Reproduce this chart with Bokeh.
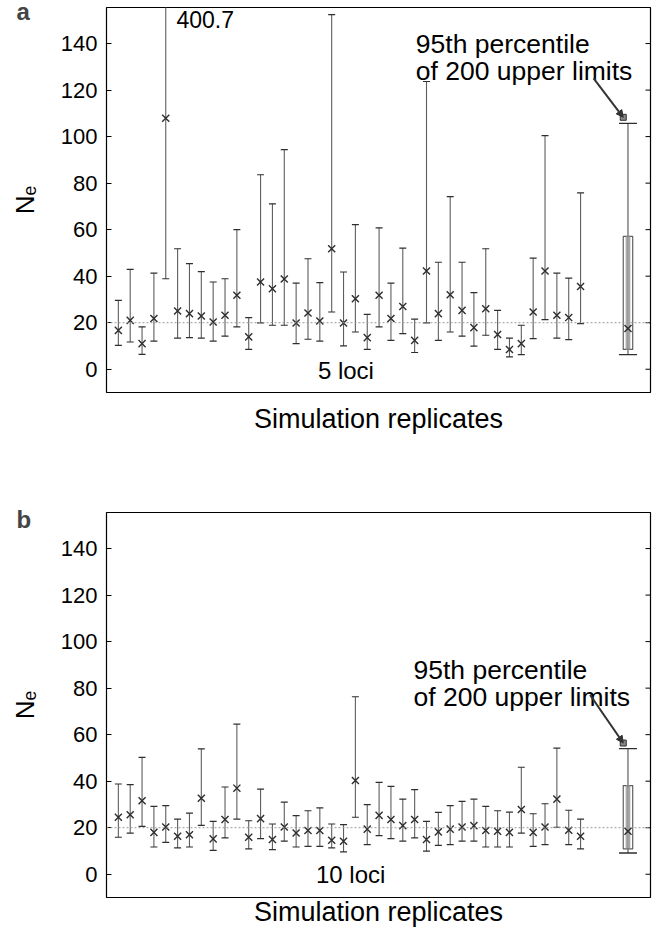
from bokeh.plotting import figure
from bokeh.layouts import column
from bokeh.models import (ColumnDataSource, FixedTicker, Range1d, Span,
                          Label, Arrow, NormalHead)
from bokeh.embed import file_html
from bokeh.resources import INLINE

# ---------------- data ----------------
replicates = list(range(1, 41))
summary_x = 44
y_ticks = [0, 20, 40, 60, 80, 100, 120, 140]
true_ne = 20

# panel a: 5 loci
a_est = [16.7, 21.0, 11.0, 21.8, 107.9, 25.0, 23.9, 22.9, 20.3, 23.2,
         31.8, 13.9, 37.5, 34.6, 38.8, 19.9, 24.2, 20.7, 51.8, 19.9,
         30.3, 13.6, 31.8, 21.8, 27.0, 12.4, 42.2, 23.9, 32.0, 25.3,
         17.9, 26.0, 14.9, 8.5, 11.0, 24.6, 42.2, 23.2, 22.2, 35.6]
a_lo = [10.3, 11.7, 6.4, 12.1, 38.9, 13.4, 13.6, 13.4, 12.1, 14.2,
        18.2, 8.5, 19.9, 18.9, 18.9, 11.0, 12.9, 12.1, 24.6, 10.0,
        16.0, 8.5, 18.2, 12.4, 15.3, 7.2, 19.9, 12.4, 16.0, 14.2,
        9.9, 14.6, 8.5, 5.3, 6.3, 13.2, 21.3, 13.4, 12.7, 19.6]
a_hi = [29.6, 42.9, 18.2, 41.3, 400.7, 51.8, 45.4, 42.0, 37.5, 38.9,
        60.0, 22.2, 83.6, 71.1, 94.4, 37.0, 47.5, 37.2, 152.4, 41.8,
        62.2, 23.6, 60.8, 37.0, 52.1, 21.5, 123.7, 46.0, 74.2, 46.0,
        32.9, 51.8, 25.3, 13.4, 18.9, 47.8, 100.4, 41.3, 39.2, 75.8]
# summary of 200 replicates (panel a)
a_sum = dict(est=17.5, box_lo=8.5, box_hi=57.1, lo=6.3, hi=105.7, p95=108.3)

# panel b: 10 loci
b_est = [24.5, 25.6, 31.6, 18.0, 20.3, 16.3, 17.0, 32.7, 15.2, 23.5,
         37.0, 15.9, 23.9, 14.9, 20.3, 17.7, 18.8, 18.8, 14.6, 14.2,
         40.3, 19.4, 25.3, 23.5, 20.9, 23.5, 14.9, 18.2, 19.4, 20.3,
         20.9, 18.8, 18.5, 18.0, 27.8, 18.0, 20.3, 32.3, 18.9, 16.3]
b_lo = [15.9, 17.7, 20.6, 11.7, 13.7, 11.3, 11.7, 21.0, 10.3, 15.6,
        23.7, 10.9, 15.3, 10.6, 14.2, 11.7, 12.0, 12.0, 11.3, 9.6,
        24.5, 12.7, 16.6, 15.3, 14.2, 15.6, 9.9, 12.4, 12.7, 14.2,
        14.2, 11.7, 11.7, 11.7, 17.7, 12.0, 12.7, 20.2, 12.7, 10.9]
b_hi = [38.8, 38.5, 50.2, 29.2, 29.5, 23.7, 26.3, 53.9, 22.7, 37.5,
        64.5, 23.0, 36.6, 21.6, 31.0, 25.2, 27.3, 28.5, 21.6, 21.3,
        76.3, 29.9, 39.5, 37.8, 32.3, 36.4, 22.7, 26.6, 29.5, 31.3,
        32.3, 29.2, 27.3, 26.7, 46.0, 26.0, 30.3, 54.2, 27.5, 23.7]
b_sum = dict(est=18.5, box_lo=10.9, box_hi=38.1, lo=9.1, hi=54.0, p95=56.4)

FONT = "Liberation Sans"
BAR = "#5e5e5e"
MARK = "#2e2e2e"
X_MIN, X_MAX = 0, 45.9
Y_MIN, Y_MAX = -10, 155.5
FRAME_W = 544


def make_panel(letter, letter_standoff, est, lo, hi, summ, loci_text, loci_pos, note_pos,
               arrow_start, extra_label, height, top, bottom, xstand):
    p = figure(width=655, height=height, output_backend="svg", toolbar_location=None,
               x_range=Range1d(X_MIN, X_MAX), y_range=Range1d(Y_MIN, Y_MAX),
               min_border_left=106, min_border_right=5, min_border_top=top,
               min_border_bottom=bottom)
    p.grid.visible = False
    p.outline_line_color = "black"
    p.outline_line_width = 1.2
    p.background_fill_color = "white"
    p.border_fill_color = "white"

    # panel letter as the plot title, pulled into the left margin
    p.title.text = letter
    p.title.text_font = FONT
    p.title.text_font_size = "24px"
    p.title.text_font_style = "bold"
    p.title.align = "left"
    p.title.offset = -90
    p.title.standoff = letter_standoff

    # y axis
    p.yaxis.ticker = FixedTicker(ticks=y_ticks)
    p.yaxis.major_tick_in = 5
    p.yaxis.major_tick_out = 0
    p.yaxis.minor_tick_line_color = None
    p.yaxis.axis_line_color = None
    p.yaxis.major_label_text_font = FONT
    p.yaxis.major_label_text_font_size = "22px"
    p.yaxis.major_label_text_color = "black"
    p.yaxis.major_label_standoff = 9
    p.yaxis.major_tick_line_color = "black"
    p.yaxis.axis_label = "Nₑ"
    p.yaxis.axis_label_text_font = FONT
    p.yaxis.axis_label_text_font_size = "26px"
    p.yaxis.axis_label_text_font_style = "normal"
    p.yaxis.axis_label_text_color = "black"
    p.yaxis.axis_label_standoff = 18

    # inward ticks on the right edge of the frame
    tick_len = (X_MAX - X_MIN) * 5 / FRAME_W
    p.segment(x0=[X_MAX - tick_len] * len(y_ticks), y0=y_ticks,
              x1=[X_MAX] * len(y_ticks), y1=y_ticks, line_color="black", line_width=1)

    # x axis: only the title
    p.xaxis.ticker = FixedTicker(ticks=[])
    p.xaxis.major_tick_line_color = None
    p.xaxis.minor_tick_line_color = None
    p.xaxis.axis_line_color = None
    p.xaxis.major_label_standoff = 0
    p.xaxis.axis_label = "Simulation replicates"
    p.xaxis.axis_label_text_font = FONT
    p.xaxis.axis_label_text_font_size = "27px"
    p.xaxis.axis_label_text_font_style = "normal"
    p.xaxis.axis_label_text_color = "black"
    p.xaxis.axis_label_standoff = xstand

    # true Ne reference line
    p.add_layout(Span(location=true_ne, dimension="width", line_color="#9a9a9a",
                      line_dash="2 2", line_width=1))

    src = ColumnDataSource(dict(x=replicates, est=est, lo=lo, hi=hi))
    p.segment(x0="x", y0="lo", x1="x", y1="hi", source=src, line_color=BAR, line_width=1.1)
    p.scatter(x="x", y="hi", source=src, marker="dash", size=7, line_color=MARK, line_width=1.2)
    p.scatter(x="x", y="lo", source=src, marker="dash", size=7, line_color=MARK, line_width=1.2)
    p.scatter(x="x", y="est", source=src, marker="x", size=10, line_color=MARK, line_width=1.4)

    # summary of 200 replicates
    s = ColumnDataSource(dict(x=[summary_x], est=[summ["est"]], blo=[summ["box_lo"]],
                              bhi=[summ["box_hi"]], lo=[summ["lo"]], hi=[summ["hi"]],
                              p95=[summ["p95"]]))
    p.vbar(x="x", bottom="blo", top="bhi", width=0.8, source=s, fill_color=None,
           line_color=BAR, line_width=1.2)
    p.segment(x0="x", y0="lo", x1="x", y1="hi", source=s, line_color=BAR, line_width=1.2)
    p.vbar(x="x", bottom="blo", top="bhi", width=0.3, source=s, fill_color=None,
           line_color="#8a8a8a", line_width=1)
    p.scatter(x="x", y="hi", source=s, marker="dash", size=18, line_color=MARK, line_width=1.4)
    p.scatter(x="x", y="lo", source=s, marker="dash", size=18, line_color=MARK, line_width=1.4)
    p.scatter(x="x", y="est", source=s, marker="x", size=10, line_color=MARK, line_width=1.4)
    p.scatter(x=[summary_x - 0.4], y=[summ["p95"]], marker="square", size=6,
              line_color=MARK, fill_color="#888888")

    # annotations
    p.add_layout(Label(x=loci_pos[0], y=loci_pos[1], text=loci_text, text_font=FONT,
                       text_font_size="24px", text_align="center", text_baseline="middle",
                       text_color="black"))
    p.add_layout(Label(x=note_pos[0], y=note_pos[1], text="95th percentile", text_font=FONT,
                       text_font_size="26.5px", text_align="left", text_baseline="middle",
                       text_color="black"))
    p.add_layout(Label(x=note_pos[0], y=note_pos[2], text="of 200 upper limits", text_font=FONT,
                       text_font_size="26.5px", text_align="left", text_baseline="middle",
                       text_color="black"))
    p.add_layout(Arrow(x_start=arrow_start[0], y_start=arrow_start[1],
                       x_end=summary_x - 0.4, y_end=summ["p95"],
                       line_color="#333333", line_width=2,
                       end=NormalHead(size=7, fill_color="#333333", line_color="#333333")))
    if extra_label is not None:
        p.add_layout(Label(x=extra_label[0], y=extra_label[1], text=extra_label[2],
                           text_font=FONT, text_font_size="23px", text_align="left",
                           text_baseline="middle", text_color="black"))
    return p


pa = make_panel("a", -34, a_est, a_lo, a_hi, a_sum, "5 loci", (20.2, -0.4), (26.1, 140.0, 128.0),
                (41.1, 125.0), (5.9, 150.5, "400.7"), height=472, top=7, bottom=80, xstand=11)
pb = make_panel("b", -40, b_est, b_lo, b_hi, b_sum, "10 loci", (20.6, 0.0), (25.9, 88.0, 76.4),
                (40.8, 77.1), None, height=464, top=40, bottom=39, xstand=-1)

layout = column(pa, pb, spacing=0)
open("out.html", "w").write(file_html(layout, INLINE))
